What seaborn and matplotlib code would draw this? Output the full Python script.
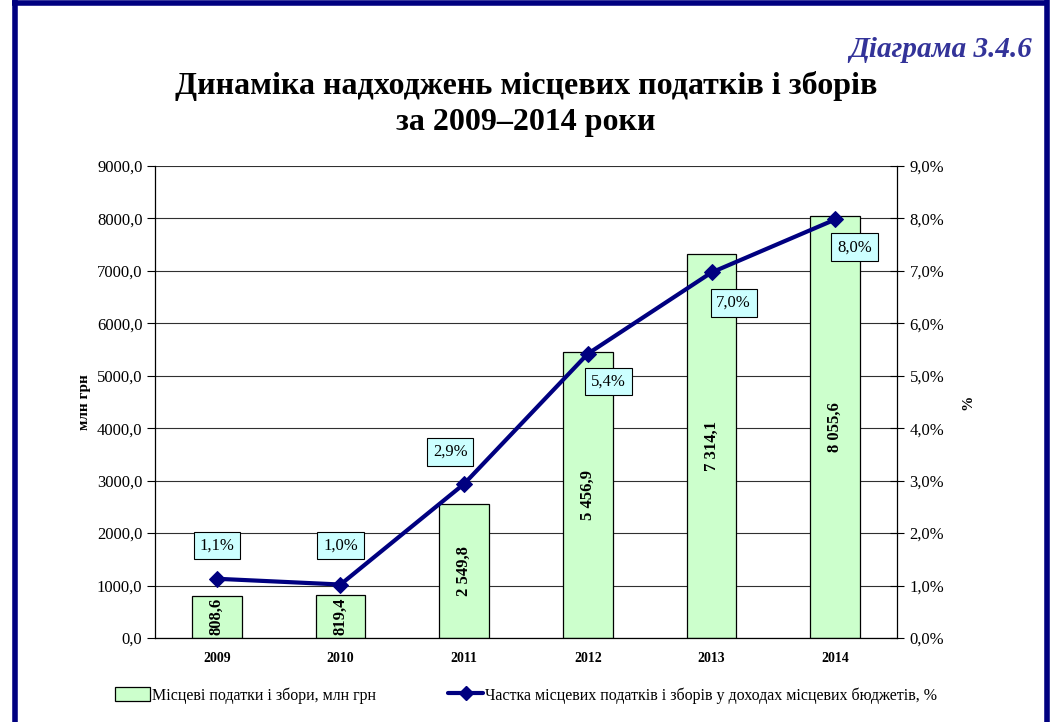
import numpy as np
import matplotlib.pyplot as plt
from matplotlib.lines import Line2D
from matplotlib.patches import Patch
import seaborn as sns

# data
years = ["2009", "2010", "2011", "2012", "2013", "2014"]
amounts = [808.6, 819.4, 2549.8, 5456.9, 7314.1, 8055.6]   # млн грн
shares = [1.13, 1.02, 2.94, 5.42, 6.97, 7.98]              # %

left_ticks = [0, 1000, 2000, 3000, 4000, 5000, 6000, 7000, 8000, 9000]
right_ticks = [0, 1, 2, 3, 4, 5, 6, 7, 8, 9]

bar_name = "Місцеві податки і збори, млн грн"
line_name = "Частка місцевих податків і зборів у доходах місцевих бюджетів, %"
title = "Динаміка надходжень місцевих податків і зборів\nза 2009–2014 роки"
tag = "Діаграма 3.4.6"

BAR_COLOR = "#ccffcc"
LINE_COLOR = "#000080"
BOX_COLOR = "#ccffff"

sns.set_theme(style="white")
plt.rcParams["font.family"] = ["Liberation Serif", "DejaVu Serif"]
plt.rcParams.update({"text.color": "black", "axes.labelcolor": "black",
                     "xtick.color": "black", "ytick.color": "black"})


def fmt_num(v):
    return f"{v:,.1f}".replace(",", " ").replace(".", ",")


def fmt_pct(v):
    return f"{v:.1f}".replace(".", ",") + "%"


fig = plt.figure(figsize=(10.52, 7.22), dpi=100)
ax = fig.add_axes([0.1473, 0.1163, 0.7054, 0.6538])

sns.barplot(x=years, y=amounts, color=BAR_COLOR, saturation=1, width=0.4,
            edgecolor="black", linewidth=0.9, ax=ax, zorder=2)

ax.set_ylim(0, 9000)
ax.set_xlim(-0.5, 5.5)
ax.set_yticks(left_ticks)
ax.set_yticklabels([f"{v:.1f}".replace(".", ",") for v in left_ticks], fontsize=12)
ax.set_xticks(range(len(years)))
ax.set_xticklabels(years, fontsize=10, fontweight="bold")
ax.set_xticks(np.arange(-0.5, 6.0, 1.0), minor=True)
ax.tick_params(axis="x", which="major", length=0, pad=10)
ax.tick_params(axis="x", which="minor", length=6, width=0.8, color="black", direction="out")
ax.tick_params(axis="y", length=6, width=0.8, color="black", direction="out", pad=3)
ax.grid(axis="y", color="#303030", linewidth=0.8, zorder=0)
ax.set_axisbelow(True)
for s in ["top", "right"]:
    ax.spines[s].set_visible(False)
for s in ["left", "bottom"]:
    ax.spines[s].set_color("black")
    ax.spines[s].set_linewidth(0.9)
ax.set_xlabel("")
ax.set_ylabel("млн грн", fontsize=11, fontweight="bold", labelpad=4)

# values inside the bars
for i, v in enumerate(amounts):
    ax.text(i, v / 2, fmt_num(v), rotation=90, ha="center", va="center",
            fontsize=12, fontweight="bold", zorder=4)

# share line on the right axis
ax2 = ax.twinx()
sns.lineplot(x=np.arange(len(years)), y=shares, ax=ax2, color=LINE_COLOR,
             linewidth=3, marker="D", markersize=8, markeredgecolor=LINE_COLOR, zorder=5)
ax2.set_ylim(0, 9)
ax2.set_xlim(-0.5, 5.5)
ax2.set_yticks(right_ticks)
ax2.set_yticklabels([f"{v:.1f}".replace(".", ",") + "%" for v in right_ticks], fontsize=12)
ax2.tick_params(axis="y", length=10, width=0.8, color="black", direction="inout", pad=4)
for s in ["top", "left", "bottom"]:
    ax2.spines[s].set_visible(False)
ax2.spines["right"].set_color("black")
ax2.spines["right"].set_linewidth(0.9)
ax2.set_ylabel("%", fontsize=11, fontweight="bold", labelpad=12)
ax2.grid(False)

label_offsets = [(0, 24), (0, 28), (-10, 23), (15, -20), (16, -22), (14, -20)]
for i, (v, off) in enumerate(zip(shares, label_offsets)):
    ax2.annotate(fmt_pct(v), (i, v), xytext=off, textcoords="offset points",
                 ha="center", va="center", fontsize=12, zorder=6,
                 bbox=dict(boxstyle="square,pad=0.35", facecolor=BOX_COLOR,
                           edgecolor="black", linewidth=0.8))

# titles
fig.text(0.5, 0.856, title, ha="center", va="center", fontsize=23,
         fontweight="bold", linespacing=1.3)
fig.text(0.981, 0.932, tag, ha="right", va="center", fontsize=21,
         fontweight="bold", fontstyle="italic", color="#333399")

# legend
handles = [
    Patch(facecolor=BAR_COLOR, edgecolor="black", linewidth=0.9, label=bar_name),
    Line2D([0], [0], color=LINE_COLOR, linewidth=3, marker="D", markersize=7, label=line_name),
]
fig.legend(handles=handles, loc="center", bbox_to_anchor=(0.5, 0.037), ncol=2,
           frameon=False, fontsize=11.5, handlelength=2.2, handletextpad=0.1,
           columnspacing=4.5, handleheight=0.9)

# dark frame around the figure
W, H = 1052, 722
frame = dict(color="#000080", linewidth=4, solid_capstyle="butt")
fig.add_artist(Line2D([14.5 / W, 14.5 / W], [0, 1], transform=fig.transFigure, **frame))
fig.add_artist(Line2D([1046.5 / W, 1046.5 / W], [0, 1], transform=fig.transFigure, **frame))
fig.add_artist(Line2D([12 / W, 1049 / W], [1 - 3 / H, 1 - 3 / H], transform=fig.transFigure, **frame))

fig.savefig("out.png", dpi=100)
